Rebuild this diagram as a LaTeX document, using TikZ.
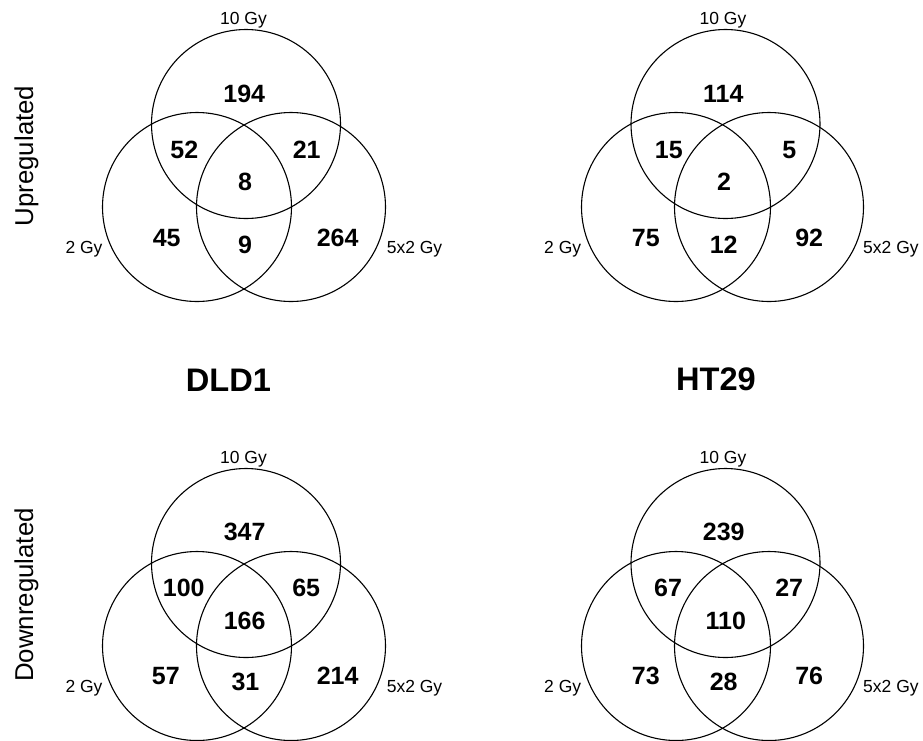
\documentclass[tikz,border=0pt]{standalone}
\usepackage{fontspec}
\setmainfont{Liberation Sans}
\begin{document}
\begin{tikzpicture}[x=1pt,y=-1pt,
  set/.style={draw=black,line width=1.1pt,circle,minimum size=189pt,inner sep=0pt},
  num/.style={anchor=base,inner sep=0pt,font=\fontsize{25}{30}\selectfont\bfseries},
  lab/.style={anchor=base,inner sep=0pt,font=\fontsize{17.5}{21}\selectfont},
  title/.style={anchor=base,inner sep=0pt,font=\fontsize{32.6}{38}\selectfont\bfseries},
  side/.style={anchor=base,inner sep=0pt,rotate=90,font=\fontsize{25.8}{30}\selectfont}]
\useasboundingbox (0,0) rectangle (923,740);
% ---------- top-left: DLD1 upregulated
\node[set] (tlA) at (246,124) {};
\node[set] (tlB) at (197,207) {};
\node[set] (tlC) at (291,207) {};
\node[lab] (tlLA) at (243.5,24) {10 Gy};
\node[lab] (tlLB) at (84,253) {2 Gy};
\node[lab] (tlLC) at (414.5,253) {5x2 Gy};
\node[num] (tl1) at (244.3,102.7) {194};
\node[num] (tl2) at (184.3,158.3) {52};
\node[num] (tl3) at (306.7,158.3) {21};
\node[num] (tl4) at (245,190) {8};
\node[num] (tl5) at (166.7,246) {45};
\node[num] (tl6) at (245,253.3) {9};
\node[num] (tl7) at (337.7,246) {264};
% ---------- top-right: HT29 upregulated
\node[set] (trA) at (725.5,124) {};
\node[set] (trB) at (676,207) {};
\node[set] (trC) at (769,207) {};
\node[lab] (trLA) at (723,24) {10 Gy};
\node[lab] (trLB) at (562.7,253) {2 Gy};
\node[lab,anchor=base west] (trLC) at (863,253) {5x2 Gy};
\node[num] (tr1) at (723.3,102.7) {114};
\node[num] (tr2) at (668.8,158.3) {15};
\node[num] (tr3) at (789.3,158.3) {5};
\node[num] (tr4) at (724,190) {2};
\node[num] (tr5) at (645.8,246) {75};
\node[num] (tr6) at (723.7,253.3) {12};
\node[num] (tr7) at (809.2,246) {92};
% ---------- bottom-left: DLD1 downregulated
\node[set] (blA) at (246,563) {};
\node[set] (blB) at (197,646) {};
\node[set] (blC) at (291,646) {};
\node[lab] (blLA) at (243.5,463) {10 Gy};
\node[lab] (blLB) at (84,692) {2 Gy};
\node[lab] (blLC) at (414.5,692) {5x2 Gy};
\node[num] (bl1) at (244.7,540) {347};
\node[num] (bl2) at (183.8,596.7) {100};
\node[num] (bl3) at (306.2,596.7) {65};
\node[num] (bl4) at (244.7,629) {166};
\node[num] (bl5) at (165.8,684) {57};
\node[num] (bl6) at (245.5,690.7) {31};
\node[num] (bl7) at (337.7,684) {214};
% ---------- bottom-right: HT29 downregulated
\node[set] (brA) at (725.5,563) {};
\node[set] (brB) at (676,646) {};
\node[set] (brC) at (769,646) {};
\node[lab] (brLA) at (723,463) {10 Gy};
\node[lab] (brLB) at (562.7,692) {2 Gy};
\node[lab,anchor=base west] (brLC) at (863,692) {5x2 Gy};
\node[num] (br1) at (723.7,540) {239};
\node[num] (br2) at (668,596.7) {67};
\node[num] (br3) at (789.2,596.7) {27};
\node[num] (br4) at (725.8,629) {110};
\node[num] (br5) at (645.8,684) {73};
\node[num] (br6) at (723.7,690.7) {28};
\node[num] (br7) at (809.2,684) {76};
% ---------- titles and side labels
\node[title] (dld) at (228.5,391.7) {DLD1};
\node[title] (ht) at (716,390.7) {HT29};
\node[side] (up) at (33,156) {Upregulated};
\node[side] (down) at (33,595) {Downregulated};
\end{tikzpicture}
\end{document}
